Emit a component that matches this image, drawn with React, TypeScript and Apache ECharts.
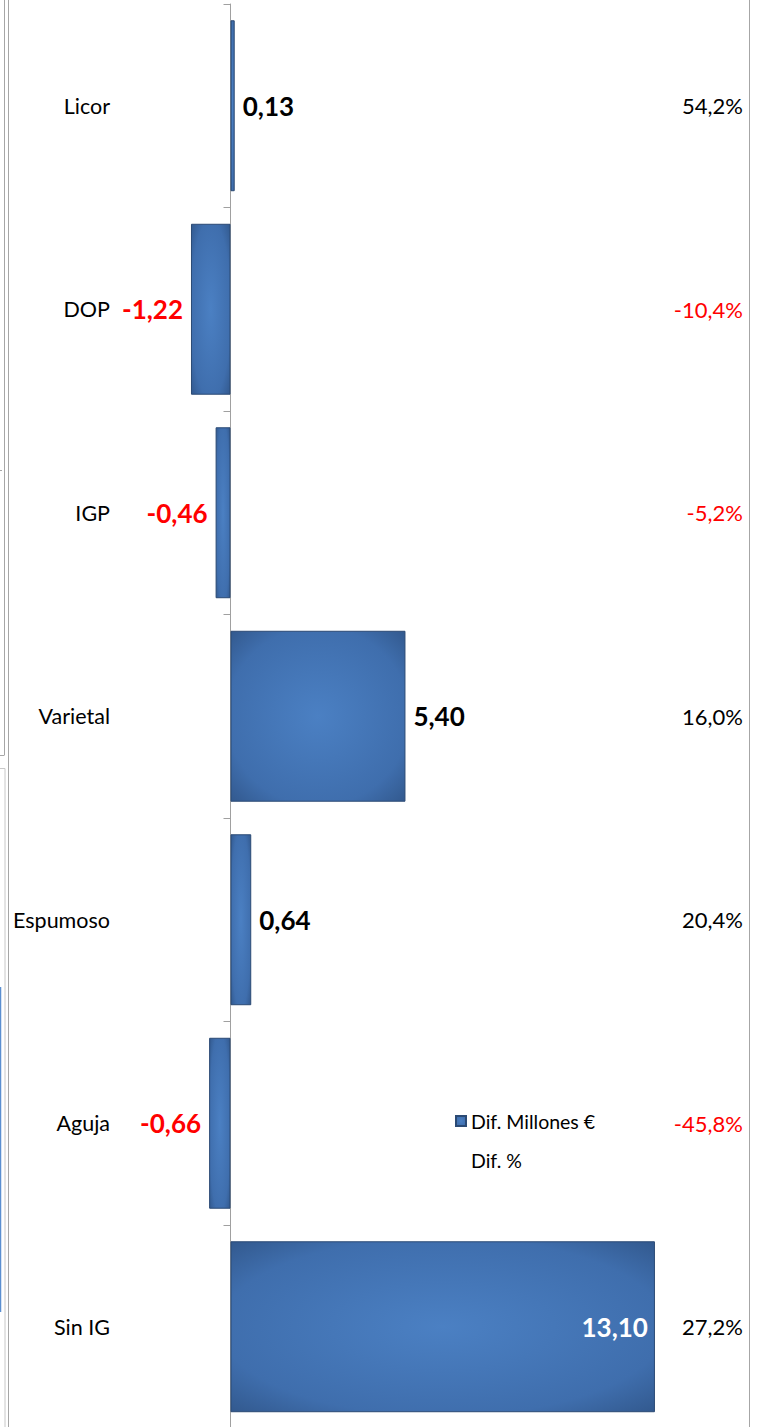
import React, { useEffect, useRef } from "react";
import * as echarts from "echarts";

const categories = ["Licor", "DOP", "IGP", "Varietal", "Espumoso", "Aguja", "Sin IG"];
const difMillones = [0.13, -1.22, -0.46, 5.4, 0.64, -0.66, 13.1];
const difPct = [54.2, -10.4, -5.2, 16.0, 20.4, -45.8, 27.2];
const seriesNames = ["Dif. Millones €", "Dif. %"];

const fmt = (v: number, d: number) => v.toFixed(d).replace(".", ",");

export default function App() {
  const ref = useRef<HTMLDivElement>(null);
  useEffect(() => {
    if (!ref.current) return;
    const chart = echarts.init(ref.current, undefined, { renderer: "svg" });
    const barColor = {
      type: "radial",
      x: 0.5,
      y: 0.5,
      r: 0.75,
      colorStops: [
        { offset: 0, color: "#4b80c3" },
        { offset: 0.7, color: "#3f6ead" },
        { offset: 1, color: "#2f5487" },
      ],
    };
    const frame = "#a6a6a6";
    const gridLeft = 165.7;
    chart.setOption({
      animation: false,
      backgroundColor: "#ffffff",
      textStyle: { fontFamily: "Lato" },
      grid: {
        left: gridLeft,
        right: 16.1,
        top: 4,
        bottom: -1.5,
        containLabel: false,
        outerBoundsMode: "none",
      },
      legend: {
        orient: "vertical",
        left: 450,
        top: 1106,
        itemWidth: 10,
        itemHeight: 10,
        itemGap: 19,
        textStyle: { fontFamily: "Lato", fontSize: 19.5, color: "#000", lineHeight: 20 },
        data: [
          { name: seriesNames[0], icon: "rect" },
          { name: seriesNames[1], icon: "rect", itemStyle: { color: "rgba(0,0,0,0)", borderWidth: 0 } },
        ],
      },
      xAxis: [{ type: "value", min: -2, max: 16, show: false }],
      yAxis: [
        {
          type: "category",
          data: categories,
          inverse: true,
          axisLine: { show: true, onZero: true, lineStyle: { color: "#a0a0a0", width: 1 } },
          axisTick: { show: true, length: 7, lineStyle: { color: "#a0a0a0" } },
          axisLabel: { margin: gridLeft - 110, fontFamily: "Lato", fontSize: 21.5, color: "#000" },
          splitLine: { show: false },
        },
        {
          type: "category",
          data: categories,
          inverse: true,
          position: "right",
          axisLine: { show: false, onZero: false },
          axisTick: { show: false },
          axisLabel: {
            inside: true,
            margin: 6,
            formatter: (_v: string, i: number) => {
              const p = difPct[i];
              return p < 0 ? `{neg|${fmt(p, 1)}%}` : `{pos|${fmt(p, 1)}%}`;
            },
            rich: {
              neg: { color: "#ff0000", fontFamily: "Lato", fontSize: 22 },
              pos: { color: "#000000", fontFamily: "Lato", fontSize: 22 },
            },
          },
          splitLine: { show: false },
        },
      ],
      series: [
        {
          name: seriesNames[0],
          type: "bar",
          yAxisIndex: 0,
          barCategoryGap: "16%",
          itemStyle: { color: barColor, borderColor: "#2b4a74", borderWidth: 1 },
          data: difMillones.map((v, i) => {
            const last = i === difMillones.length - 1;
            return {
              value: v,
              label: {
                show: true,
                position: last ? "insideRight" : v < 0 ? "left" : "right",
                distance: last ? 7 : 8,
                fontFamily: "Lato",
                fontWeight: "bold",
                fontSize: 26,
                color: last ? "#ffffff" : v < 0 ? "#ff0000" : "#000000",
                formatter: () => fmt(v, 2),
              },
            };
          }),
        },
        {
          name: seriesNames[1],
          type: "bar",
          yAxisIndex: 1,
          itemStyle: { color: "rgba(0,0,0,0)" },
          data: [],
        },
      ],
      graphic: [
        { type: "line", shape: { x1: 4.5, y1: 0, x2: 4.5, y2: 755 }, style: { stroke: frame, lineWidth: 1 }, silent: true },
        { type: "line", shape: { x1: 0, y1: 755.5, x2: 4.5, y2: 755.5 }, style: { stroke: frame, lineWidth: 1 }, silent: true },
        { type: "line", shape: { x1: 0, y1: 768.5, x2: 5, y2: 768.5 }, style: { stroke: "#c8c8c8", lineWidth: 1 }, silent: true },
        { type: "line", shape: { x1: 5, y1: 768.5, x2: 5, y2: 1427 }, style: { stroke: "#c8c8c8", lineWidth: 1 }, silent: true },
        { type: "line", shape: { x1: 8.5, y1: 0, x2: 8.5, y2: 1427 }, style: { stroke: frame, lineWidth: 1 }, silent: true },
        { type: "line", shape: { x1: 0, y1: 470.5, x2: 2, y2: 470.5 }, style: { stroke: frame, lineWidth: 1 }, silent: true },
        { type: "line", shape: { x1: 0.5, y1: 987, x2: 0.5, y2: 1312 }, style: { stroke: "#5b8fd0", lineWidth: 1.5 }, silent: true },
        { type: "line", shape: { x1: 749.5, y1: 0, x2: 749.5, y2: 1427 }, style: { stroke: "#a6a6a6", lineWidth: 1 }, silent: true },
      ],
    });
    return () => chart.dispose();
  }, []);
  return (
    <div
      ref={ref}
      style={{ position: "fixed", left: 0, top: 0, width: 765, height: 1427, background: "#fff" }}
    />
  );
}
